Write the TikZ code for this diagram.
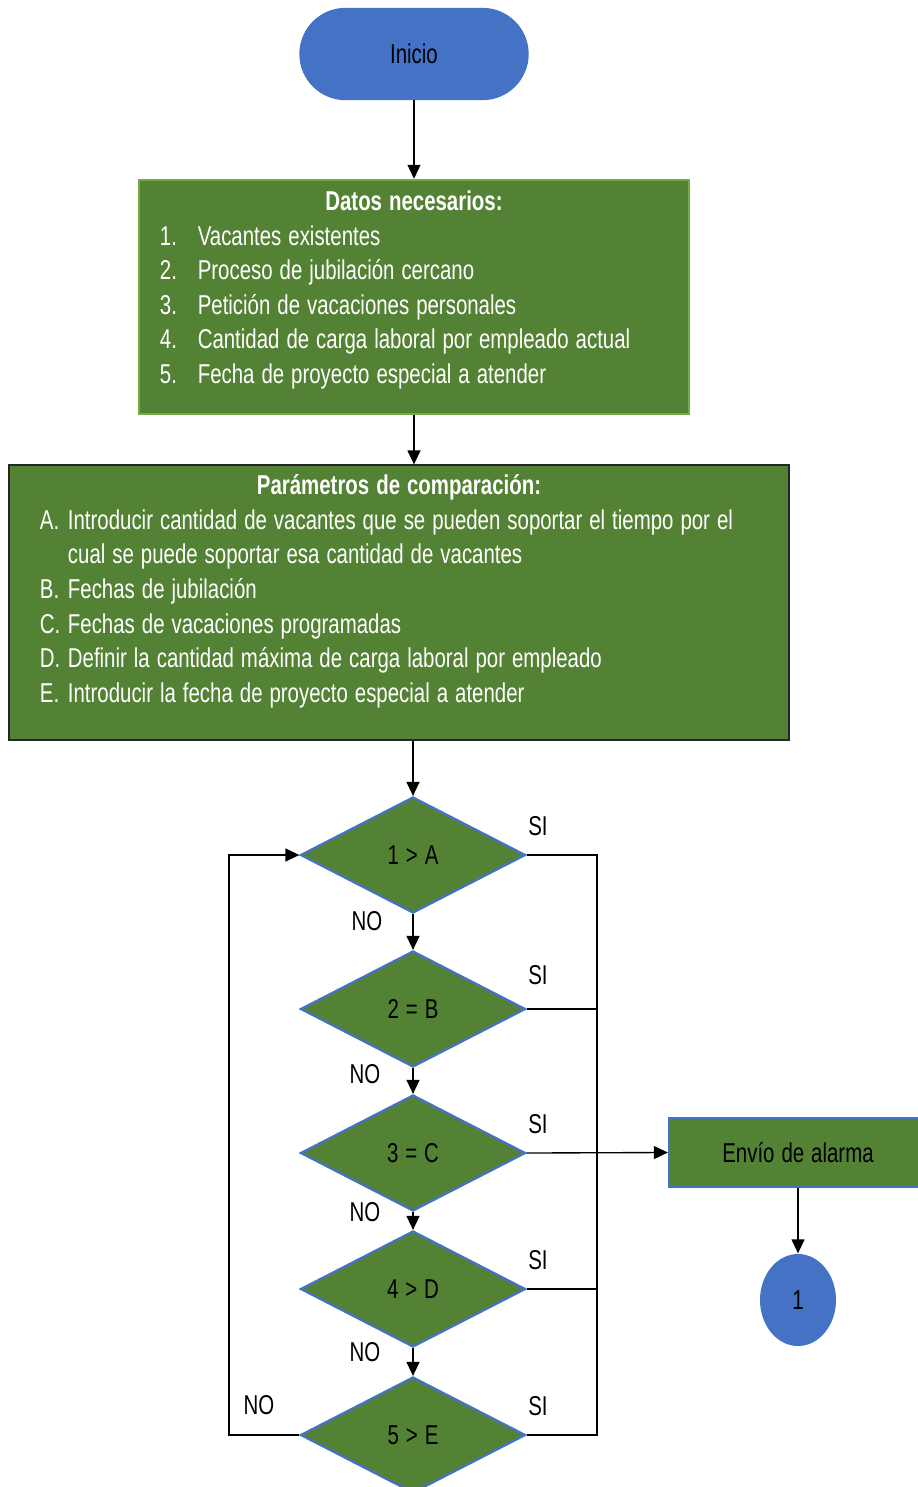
\documentclass[tikz,border=0pt]{standalone}
\usepackage{fontspec}
\setmainfont{Liberation Sans}[FakeStretch=0.75,WordSpace=1.23]
\usetikzlibrary{shapes.geometric,arrows.meta}
\definecolor{boxgreen}{HTML}{548235}
\definecolor{lightgreen}{HTML}{70AD47}
\definecolor{startblue}{HTML}{4472C4}
\newcommand{\numlbl}[1]{\makebox[21.5pt][l]{#1}}
\newcommand{\letlbl}[1]{\makebox[15.9pt][l]{#1}}
\begin{document}
\begin{tikzpicture}[x=0.2mm,y=-0.2mm,
  every node/.style={font=\fontsize{15.5pt}{19.7pt}\selectfont},
  >={Triangle[length=2.8mm,width=2.6mm]},
  every path/.style={line width=0.27mm},
  startstop/.style={rectangle, rounded corners=9.1mm, fill=startblue, draw=startblue, minimum width=45.6mm, minimum height=18.2mm},
  databox/.style={draw=lightgreen, line width=0.5mm, fill=boxgreen},
  parambox/.style={draw=black!85, line width=0.25mm, fill=boxgreen},
  boxtext/.style={text=white, anchor=north, align=flush left, inner sep=0pt},
  decision/.style={diamond, fill=boxgreen, draw=startblue, line width=0.45mm, minimum width=45mm, minimum height=23.2mm, inner sep=0pt},
  alarmbox/.style={fill=boxgreen, draw=startblue, line width=0.45mm, minimum width=51.6mm, minimum height=13.8mm},
  connector/.style={ellipse, fill=startblue, minimum width=15.2mm, minimum height=18.4mm, inner sep=0pt}]
\useasboundingbox (0,0) rectangle (917,1487);

\node[startstop] (inicio) at (414,54) {Inicio};

\node[databox, minimum width=110mm, minimum height=46.8mm] (datos) at (414,297) {};
\node[boxtext, text width=101.6mm] (datostxt) at (414,190) {\makebox[\hsize]{\bfseries Datos necesarios:}\\
  \numlbl{1.}Vacantes existentes\\
  \numlbl{2.}Proceso de jubilación cercano\\
  \numlbl{3.}Petición de vacaciones personales\\
  \numlbl{4.}Cantidad de carga laboral por empleado actual\\
  \numlbl{5.}Fecha de proyecto especial a atender};

\node[parambox, minimum width=156mm, minimum height=55mm] (param) at (399,602.5) {};
\node[boxtext, text width=143.6mm] (paramtxt) at (399,474) {\makebox[\hsize]{\bfseries Parámetros de comparación:}\\
  \letlbl{A.}\mbox{Introducir cantidad de vacantes que se pueden soportar el tiempo por el}\\
  \letlbl{}cual se puede soportar esa cantidad de vacantes\\
  \letlbl{B.}Fechas de jubilación\\
  \letlbl{C.}Fechas de vacaciones programadas\\
  \letlbl{D.}Definir la cantidad máxima de carga laboral por empleado\\
  \letlbl{E.}Introducir la fecha de proyecto especial a atender};

% decisions
\node[decision] (d1) at (413,855) {1 > A};
\node[decision] (d2) at (413,1009) {2 = B};
\node[decision] (d3) at (413,1153) {3 = C};
\node[decision] (d4) at (413,1289) {4 > D};
\node[decision] (d5) at (413,1435) {5 > E};

\node[alarmbox] (alarma) at (798,1152.5) {Envío de alarma};
\node[connector] (uno) at (798,1300) {1};

\coordinate (bus) at (597,855);
\coordinate (loop) at (229,855);

\node (si1) at (538,826) {SI};
\node (si2) at (538,975) {SI};
\node (si3) at (538,1124) {SI};
\node (si4) at (538,1260) {SI};
\node (si5) at (538,1406) {SI};
\node (no1) at (367,921) {NO};
\node (no2) at (365,1074) {NO};
\node (no3) at (365,1212) {NO};
\node (no4) at (365,1352) {NO};
\node (no5) at (259,1405) {NO};

\draw[->] (inicio) -- (datos);
\draw[->] (datos.south) -- (datos.south |- param.north);
\draw[->] (d1.north |- param.south) -- (d1.north);
\draw[->] (d1) -- (d2);
\draw[->] (d2) -- (d3);
\draw[->] (d3) -- (d4);
\draw[->] (d4) -- (d5);
\draw (d1.east) -- (d1.east -| bus) -- (d5.east -| bus) -- (d5.east);
\draw (d2.east) -- (d2.east -| bus);
\draw (d4.east) -- (d4.east -| bus);
\draw[->] (d3.east) -- (alarma.west);
\draw[->] (d5.west) -- (d5.west -| loop) -- (loop) -- (d1.west);
\draw[->] (alarma) -- (uno);
\end{tikzpicture}
\end{document}
